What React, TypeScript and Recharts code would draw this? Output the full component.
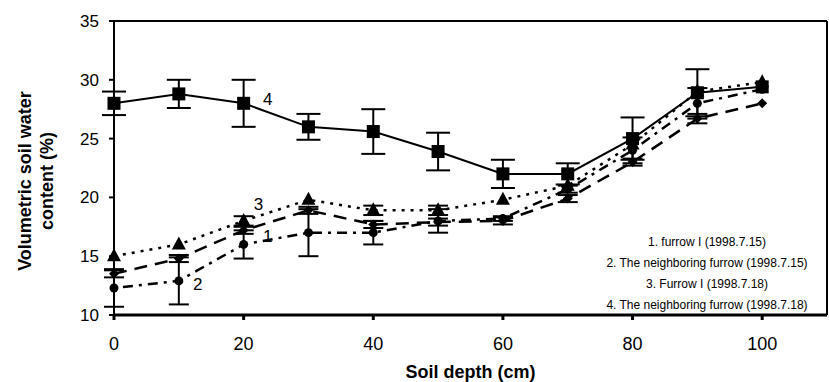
import {
  CartesianGrid,
  ErrorBar,
  Line,
  LineChart,
  ReferenceDot,
  XAxis,
  YAxis,
} from 'recharts';

const depths = [0, 10, 20, 30, 40, 50, 60, 70, 80, 90, 100];
const furrow715 = [12.3, 12.9, 16, 17, 17, 18, 18.2, 20.7, 24, 28, 29.2];
const neighbor715 = [13.5, 14.8, 17.2, 18.9, 17.7, 17.9, 18, 19.9, 23, 26.7, 28];
const furrow718 = [15, 16, 18, 19.8, 18.9, 18.9, 19.8, 21, 24.5, 29, 29.8];
const neighbor718 = [28, 28.8, 28, 26, 25.6, 23.9, 22, 22, 25, 28.9, 29.4];

const furrow715Err = [1.6, 2, 1.2, 2, 1, 1, 0.2, 0.3, 1.1, 1.3, 0];
const neighbor715Err = [0.3, 0.3, 0.3, 0.3, 0.3, 0.3, 0.3, 0.3, 0.3, 0.4, 0];
const furrow718Err = [0, 0, 0.4, 0, 0.4, 0.4, 0, 0, 0, 0, 0];
const neighbor718Err = [1, 1.2, 2, 1.1, 1.9, 1.6, 1.2, 0.9, 1.8, 2, 0];

const xTicks = [0, 20, 40, 60, 80, 100];
const yTicks = [10, 15, 20, 25, 30, 35];
// frame edges (top and right), drawn as grid lines
const frameTop = [35];
const frameRight = [110];

const legendLines = [
  '1. furrow I (1998.7.15)',
  '2. The neighboring furrow (1998.7.15)',
  '3. Furrow I (1998.7.18)',
  '4. The neighboring furrow (1998.7.18)',
];

// curve number labels, placed in data space next to each curve
const curveLabels = [
  { text: '1', x: 23.7, y: 16.7 },
  { text: '2', x: 12.9, y: 12.6 },
  { text: '3', x: 22.3, y: 19.4 },
  { text: '4', x: 23.7, y: 28.4 },
];

const data = depths.map((depth, i) => ({
  depth,
  s1: furrow715[i],
  s2: neighbor715[i],
  s3: furrow718[i],
  s4: neighbor718[i],
  e1: furrow715Err[i],
  e2: neighbor715Err[i],
  e3: furrow718Err[i],
  e4: neighbor718Err[i],
}));

const font = '"Liberation Sans", Arial, sans-serif';

const SquareDot = (props: any) => {
  const { cx, cy, index } = props;
  return <rect key={index} x={cx - 6.5} y={cy - 6.5} width={13} height={13} fill="#000" />;
};

const TriangleDot = (props: any) => {
  const { cx, cy, index } = props;
  return (
    <path key={index} d={`M${cx},${cy - 8} L${cx + 7},${cy + 5} L${cx - 7},${cy + 5} Z`} fill="#000" />
  );
};

const CircleDot = (props: any) => {
  const { cx, cy, index } = props;
  return <circle key={index} cx={cx} cy={cy} r={4.5} fill="#000" />;
};

const DiamondDot = (props: any) => {
  const { cx, cy, index } = props;
  return (
    <path key={index} d={`M${cx},${cy - 5} L${cx + 5},${cy} L${cx},${cy + 5} L${cx - 5},${cy} Z`} fill="#000" />
  );
};

const YTitle = () => {
  const x = 31;
  const y = 181;
  return (
    <text
      transform={`rotate(-90 ${x} ${y})`}
      x={x}
      y={y}
      textAnchor="middle"
      fontFamily={font}
      fontWeight="bold"
      fontSize={18}
      fill="#000"
    >
      <tspan x={x} dy={0}>Volumetric soil water</tspan>
      <tspan x={x} dy={22}>content (%)</tspan>
    </text>
  );
};

const XTitle = (props: any) => {
  const { viewBox } = props;
  return (
    <text
      x={viewBox.x + viewBox.width / 2}
      y={378}
      textAnchor="middle"
      fontFamily={font}
      fontWeight="bold"
      fontSize={18}
      fill="#000"
    >
      Soil depth (cm)
    </text>
  );
};

export default function App() {
  return (
    <div style={{ position: 'absolute', left: 0, top: 0, width: 829, height: 382, background: '#fff' }}>
      <LineChart width={829} height={382} data={data} margin={{ top: 21, right: 2, left: 54, bottom: 26 }}>
        <CartesianGrid
          horizontalValues={frameTop}
          verticalValues={frameRight}
          stroke="#000"
          strokeWidth={2}
          strokeOpacity={1}
        />
        <XAxis
          dataKey="depth"
          type="number"
          domain={[0, 110]}
          ticks={xTicks}
          stroke="#000"
          strokeWidth={3}
          tickSize={5}
          tickMargin={17}
          tick={{ fill: '#000', fontSize: 18, fontFamily: font }}
          height={41}
          label={<XTitle />}
        />
        <YAxis
          type="number"
          domain={[10, 35]}
          ticks={yTicks}
          stroke="#000"
          strokeWidth={2}
          tickSize={5}
          tickMargin={10}
          width={60}
          tick={{ fill: '#000', fontSize: 17, fontFamily: font }}
          label={<YTitle />}
        />
        <Line
          dataKey="s3"
          stroke="#000"
          strokeWidth={2.5}
          strokeDasharray="3 6"
          dot={<TriangleDot />}
          activeDot={false}
          isAnimationActive={false}
        >
          <ErrorBar dataKey="e3" width={10} strokeWidth={2} stroke="#000" direction="y" />
        </Line>
        <Line
          dataKey="s1"
          stroke="#000"
          strokeWidth={2.5}
          strokeDasharray="3 6 10 6"
          dot={<CircleDot />}
          activeDot={false}
          isAnimationActive={false}
        >
          <ErrorBar dataKey="e1" width={10} strokeWidth={2} stroke="#000" direction="y" />
        </Line>
        <Line
          dataKey="s2"
          stroke="#000"
          strokeWidth={2.5}
          strokeDasharray="13 8"
          dot={<DiamondDot />}
          activeDot={false}
          isAnimationActive={false}
        >
          <ErrorBar dataKey="e2" width={10} strokeWidth={2} stroke="#000" direction="y" />
        </Line>
        <Line
          dataKey="s4"
          stroke="#000"
          strokeWidth={2}
          dot={<SquareDot />}
          activeDot={false}
          isAnimationActive={false}
        >
          <ErrorBar dataKey="e4" width={12} strokeWidth={2} stroke="#000" direction="y" />
        </Line>
        {curveLabels.map((l) => (
          <ReferenceDot
            key={l.text}
            x={l.x}
            y={l.y}
            r={0}
            fill="none"
            stroke="none"
            ifOverflow="visible"
            label={{ value: l.text, position: 'center', fill: '#000', fontSize: 17, fontFamily: font }}
          />
        ))}
      </LineChart>
      <div
        style={{
          position: 'absolute',
          left: 597,
          top: 232,
          width: 220,
          fontFamily: font,
          fontSize: 12,
          color: '#000',
          textAlign: 'center',
          lineHeight: '21px',
        }}
      >
        {legendLines.map((t) => (
          <div key={t}>{t}</div>
        ))}
      </div>
    </div>
  );
}
